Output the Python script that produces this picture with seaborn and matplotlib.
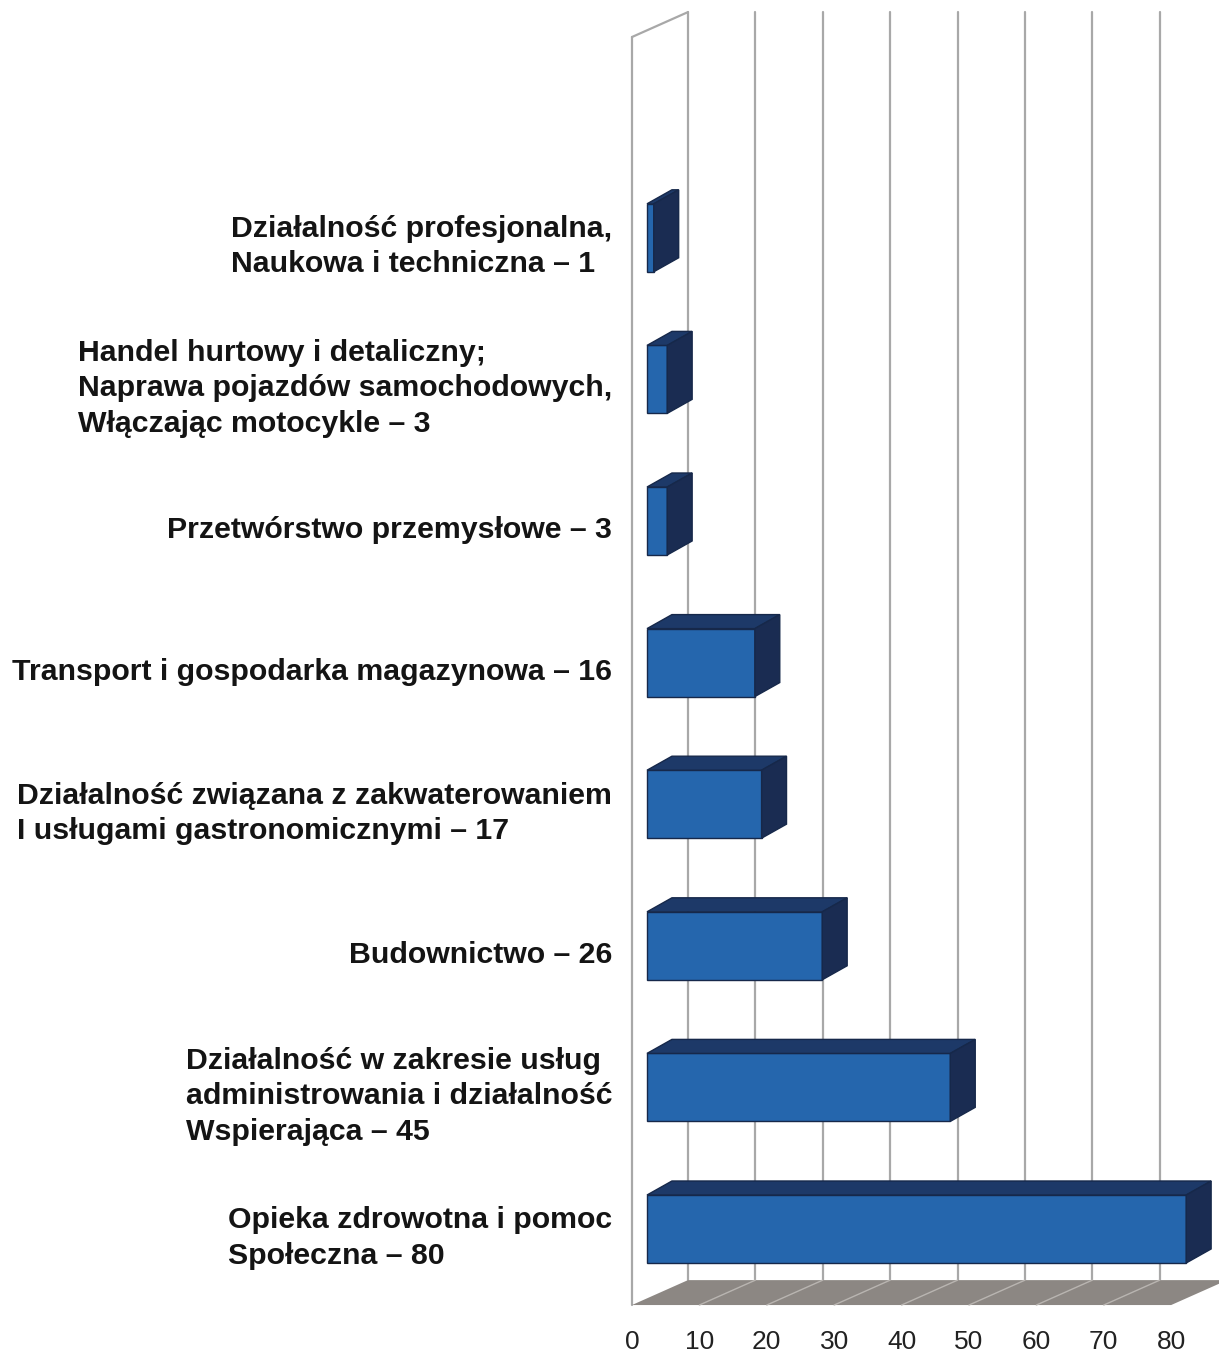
import numpy as np
import pandas as pd
import matplotlib.pyplot as plt
import seaborn as sns
from matplotlib.patches import Polygon

# Data
labels = [
    "Działalność profesjonalna,\nNaukowa i techniczna – 1",
    "Handel hurtowy i detaliczny;\nNaprawa pojazdów samochodowych,\nWłączając motocykle – 3",
    "Przetwórstwo przemysłowe – 3",
    "Transport i gospodarka magazynowa – 16",
    "Działalność związana z zakwaterowaniem\nI usługami gastronomicznymi – 17",
    "Budownictwo – 26",
    "Działalność w zakresie usług\nadministrowania i działalność\nWspierająca – 45",
    "Opieka zdrowotna i pomoc\nSpołeczna – 80",
]
values = [1, 3, 3, 16, 17, 26, 45, 80]
ticks = [0, 10, 20, 30, 40, 50, 60, 70, 80]

df = pd.DataFrame({"label": labels, "value": values})

sns.set_style("white")
plt.rcParams['font.family'] = ['Liberation Sans', 'DejaVu Sans']

# colours
front_col = "#2566ad"
top_col = "#1d3968"
side_col = "#1a2c52"
edge_col = "#16284a"
grid_col = "#a8a8a8"
floor_col = "#8c8783"
floor_line = "#b9b5b1"

fig = plt.figure(figsize=(12.19, 13.56), dpi=100)
ax = fig.add_axes([0, 0, 1, 1])

sns.barplot(data=df, x="value", y="label", orient="h", width=0.48,
            color=front_col, saturation=1, edgecolor=edge_col, linewidth=1,
            ax=ax, zorder=4)

# pseudo-3D geometry (data units)
x_scale, y_scale = 6.74, 141.6       # px per unit
dx_f, dy_f = -2.23, 0.047            # front plane offset from bar plane
dx_b, dy_b = 6.08, -0.129            # back wall offset from bar plane
dx_d, dy_d = 3.7, -0.099             # bar depth
floor_y, top_y = 7.49, -1.465

ax.set_xlim(-647 / x_scale, (1219 - 647) / x_scale)
ax.set_ylim(7 + (1356 - 1229) / y_scale, 7 - 1229 / y_scale)

# bar top and side faces
for p in ax.patches[:len(values)]:
    x0, y0 = p.get_x(), p.get_y()
    w, h = p.get_width(), p.get_height()
    yt = min(y0, y0 + h)
    yb = max(y0, y0 + h)
    top = Polygon([(x0, yt), (x0 + w, yt), (x0 + w + dx_d, yt + dy_d), (x0 + dx_d, yt + dy_d)],
                  closed=True, facecolor=top_col, edgecolor=edge_col, linewidth=1, zorder=4)
    side = Polygon([(x0 + w, yt), (x0 + w, yb), (x0 + w + dx_d, yb + dy_d), (x0 + w + dx_d, yt + dy_d)],
                   closed=True, facecolor=side_col, edgecolor=edge_col, linewidth=1, zorder=4)
    ax.add_patch(top)
    ax.add_patch(side)

vmax = ticks[-1]
# floor
floor = Polygon([(dx_f, floor_y + dy_f), (vmax + dx_f, floor_y + dy_f),
                 (vmax + dx_b, floor_y + dy_b), (dx_b, floor_y + dy_b)],
                closed=True, facecolor=floor_col, edgecolor="none", zorder=2)
ax.add_patch(floor)
for t in ticks[1:-1]:
    ax.plot([t + dx_f, t + dx_b], [floor_y + dy_f, floor_y + dy_b], color=floor_line, lw=1, zorder=2.5)

# back wall gridlines
for t in ticks:
    ax.plot([t + dx_b, t + dx_b], [top_y + dy_b, floor_y + dy_b], color=grid_col, lw=1.6, zorder=1)

# left wall
ax.plot([dx_f, dx_f], [floor_y + dy_f, top_y + dy_f], color=grid_col, lw=1.6, zorder=1)
ax.plot([dx_f, dx_b], [top_y + dy_f, top_y + dy_b], color=grid_col, lw=1.6, zorder=1)

# tick labels
for t in ticks:
    ax.text(t + dx_f, 7.80, str(t), ha="center", va="center", fontsize=19, color="#222222")

# category labels
for i, lab in enumerate(labels):
    ax.text(-5.19, i + 0.064, lab, ha="right", va="center", multialignment="left",
            fontsize=21.8, fontweight="bold", color="#141414", linespacing=1.33)

ax.axis("off")
fig.savefig("out.png", dpi=100)
